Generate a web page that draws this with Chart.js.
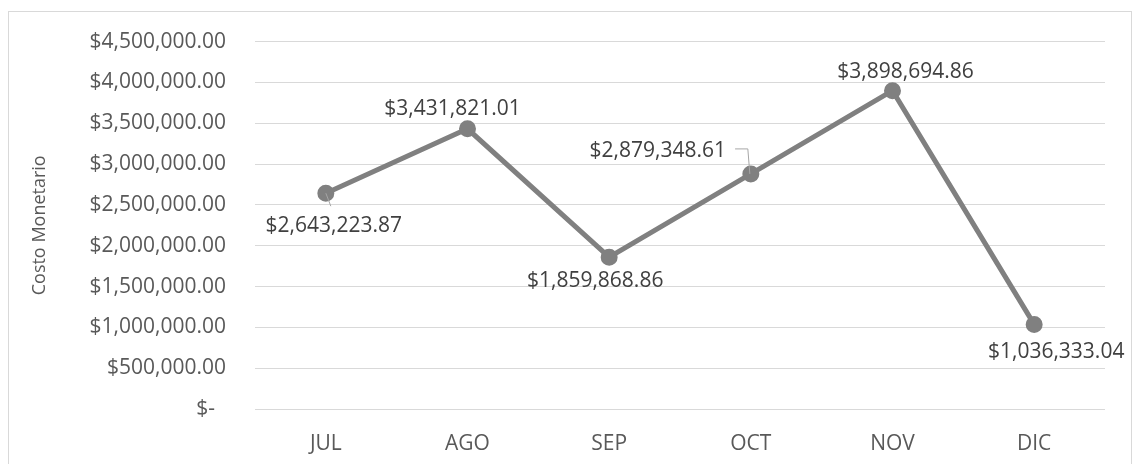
<!DOCTYPE html>
<html>
<head>
<meta charset="utf-8">
<script src="https://cdn.jsdelivr.net/npm/chart.js@4.4.0/dist/chart.umd.min.js"></script>
<style>
  html, body { margin: 0; padding: 0; background: #fff; }
  #wrap { position: relative; width: 1135px; height: 464px; }
  #frame { position: absolute; left: 8px; top: 11px; width: 1124px; height: 460px; border: 1px solid #d9d9d9; box-sizing: border-box; pointer-events: none; }
</style>
</head>
<body>
<div id="wrap">
  <canvas id="chart" width="1135" height="464"></canvas>
  <div id="frame"></div>
</div>
<script>
// months (Spanish abbreviations)
const months = ['JUL', 'AGO', 'SEP', 'OCT', 'NOV', 'DIC'];
// monetary cost per month
const costs = [2643223.87, 3431821.01, 1859868.86, 2879348.61, 3898694.86, 1036333.04];
// y axis ticks
const yTickValues = [0, 500000, 1000000, 1500000, 2000000, 2500000, 3000000, 3500000, 4000000, 4500000];
const yTickLabels = ['$-  ', '$500,000.00', '$1,000,000.00', '$1,500,000.00', '$2,000,000.00',
  '$2,500,000.00', '$3,000,000.00', '$3,500,000.00', '$4,000,000.00', '$4,500,000.00'];

const FONT = "'Open Sans', sans-serif";

function money(v) {
  return '$' + v.toLocaleString('en-US', { minimumFractionDigits: 2, maximumFractionDigits: 2 });
}

// where each data label sits relative to its point, plus optional leader line
const labelPlacement = [
  { dx: 8, dy: 33, leader: 'down' },
  { dx: -15, dy: -20 },
  { dx: -14, dy: 24 },
  { dx: -93, dy: -23, leader: 'elbow' },
  { dx: 13, dy: -19 },
  { dx: 22, dy: 28 }
];

const dataLabels = {
  id: 'dataLabels',
  afterDatasetsDraw(chart) {
    const ctx = chart.ctx;
    const meta = chart.getDatasetMeta(0);
    ctx.save();
    ctx.font = '21px ' + FONT;
    ctx.fillStyle = '#404040';
    ctx.textAlign = 'center';
    ctx.textBaseline = 'middle';
    meta.data.forEach((pt, i) => {
      const p = labelPlacement[i];
      const lx = pt.x + p.dx, ly = pt.y + p.dy;
      const text = money(costs[i]);
      ctx.fillText(text, lx, ly);
      ctx.strokeStyle = '#a6a6a6';
      ctx.lineWidth = 1;
      if (p.leader === 'down') {
        ctx.beginPath();
        ctx.moveTo(pt.x, pt.y);
        ctx.lineTo(pt.x + 5, ly - 20);
        ctx.stroke();
      } else if (p.leader === 'elbow') {
        const w = ctx.measureText(text).width;
        ctx.beginPath();
        ctx.moveTo(lx + w / 2 + 9, ly - 2);
        ctx.lineTo(pt.x - 3, ly - 2);
        ctx.lineTo(pt.x - 1, pt.y);
        ctx.stroke();
      }
    });
    ctx.restore();
  }
};

new Chart(document.getElementById('chart'), {
  type: 'line',
  data: {
    labels: months,
    datasets: [{
      data: costs,
      borderColor: '#808080',
      backgroundColor: '#808080',
      borderWidth: 5,
      pointRadius: 6,
      pointHoverRadius: 6,
      pointBackgroundColor: '#808080',
      pointBorderColor: '#808080',
      tension: 0
    }]
  },
  options: {
    responsive: false,
    animation: false,
    layout: { padding: { left: 0, top: 40, right: 30, bottom: 0 } },
    plugins: { legend: { display: false }, tooltip: { enabled: false } },
    scales: {
      x: {
        offset: true,
        grid: { display: false, drawTicks: false },
        border: { display: false },
        ticks: { color: '#595959', font: { family: FONT, size: 21 }, padding: 22 },
        afterFit(scale) { scale.height = 55; }
      },
      y: {
        min: 0,
        max: 4500000,
        afterBuildTicks(scale) { scale.ticks = yTickValues.map(v => ({ value: v })); },
        grid: { color: '#d9d9d9', lineWidth: 1, drawTicks: false },
        border: { display: false },
        ticks: {
          color: '#595959',
          font: { family: FONT, size: 21 },
          padding: 29,
          callback(value) { return yTickLabels[yTickValues.indexOf(value)]; }
        },
        title: {
          display: true,
          text: 'Costo Monetario',
          color: '#595959',
          font: { family: FONT, size: 18, weight: 'normal' },
          padding: { top: 29, bottom: 0 }
        },
        afterFit(scale) { scale.width = 255; }
      }
    }
  },
  plugins: [dataLabels]
});
</script>
</body>
</html>
